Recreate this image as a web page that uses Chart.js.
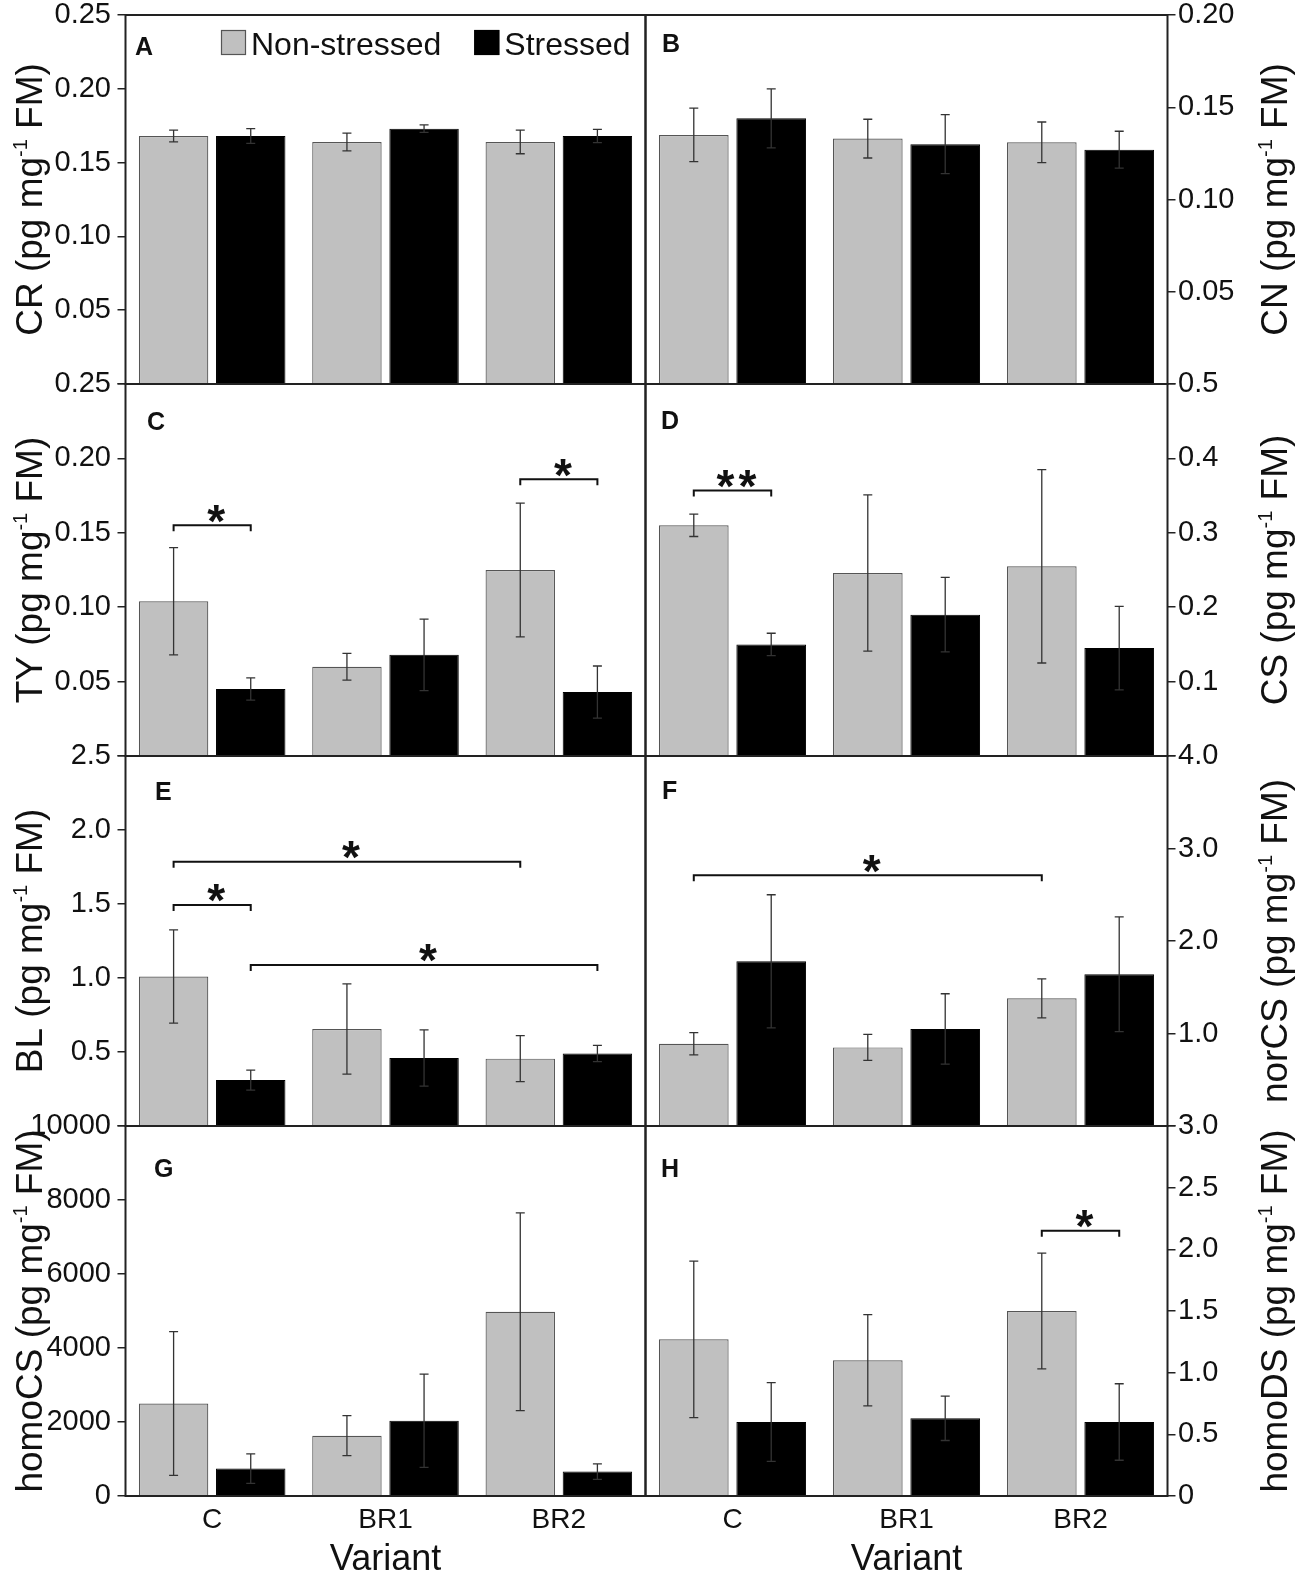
<!DOCTYPE html>
<html>
<head>
<meta charset="utf-8">
<script src="https://cdn.jsdelivr.net/npm/chart.js@4.4.1/dist/chart.umd.min.js"></script>
<style>
  html, body { margin: 0; padding: 0; background: #fff; }
  #wrap { position: relative; width: 1299px; height: 1578px; overflow: hidden; background: #fff; }
  #wrap canvas { position: absolute; }
</style>
</head>
<body>
<div id="wrap"></div>
<script>
const variants = ['C', 'BR1', 'BR2'];
const groups = ['Non-stressed', 'Stressed'];

// means and error bars per panel: [non-stressed, stressed]
const crMean = [[0.168, 0.164, 0.164], [0.168, 0.173, 0.168]];
const crErr = [[0.004, 0.006, 0.008], [0.005, 0.0025, 0.0045]];
const cnMean = [[0.135, 0.133, 0.131], [0.144, 0.130, 0.127]];
const cnErr = [[0.0145, 0.0105, 0.011], [0.016, 0.016, 0.010]];
const tyMean = [[0.104, 0.060, 0.125], [0.045, 0.068, 0.043]];
const tyErr = [[0.036, 0.009, 0.045], [0.0075, 0.024, 0.0175]];
const csMean = [[0.310, 0.246, 0.255], [0.150, 0.190, 0.145]];
const csErr = [[0.015, 0.105, 0.130], [0.015, 0.050, 0.056]];
const blMean = [[1.01, 0.655, 0.455], [0.31, 0.46, 0.49]];
const blErr = [[0.315, 0.305, 0.155], [0.067, 0.19, 0.055]];
const norMean = [[0.89, 0.85, 1.38], [1.78, 1.05, 1.64]];
const norErr = [[0.12, 0.14, 0.21], [0.72, 0.38, 0.62]];
const hcsMean = [[2500, 1630, 4980], [740, 2035, 660]];
const hcsErr = [[1945, 540, 2670], [400, 1260, 210]];
const hdsMean = [[1.27, 1.10, 1.50], [0.60, 0.63, 0.60]];
const hdsErr = [[0.635, 0.37, 0.47], [0.32, 0.18, 0.31]];

// significance brackets: [from variant, from group, to variant, to group, height, mark]
const tyMarks = [[0, 0, 0, 1, 0.155, '*'], [2, 0, 2, 1, 0.186, '*']];
const csMarks = [[0, 0, 0, 1, 0.357, '**']];
const blMarks = [[0, 0, 2, 0, 1.786, '*'], [0, 0, 0, 1, 1.493, '*'], [0, 1, 2, 1, 1.088, '*']];
const norMarks = [[0, 0, 2, 0, 2.71, '*']];
const hdsMarks = [[2, 0, 2, 1, 2.15, '*']];

const FONT = '"Liberation Sans", Arial, sans-serif';
const INK = '#111';
const rowTops = [15, 384, 756, 1126, 1496];
const M = 30; // canvas margin around each plot box

const panels = [
  { letter: 'A', at: [135, 55], side: 'left', row: 0, mean: crMean, err: crErr, max: 0.25, step: 0.05, dec: 2, title: ['CR (pg mg', '-1', ' FM)'], marks: [], legend: true },
  { letter: 'B', at: [662, 52], side: 'right', row: 0, mean: cnMean, err: cnErr, max: 0.20, step: 0.05, dec: 2, title: ['CN (pg mg', '-1', ' FM)'], marks: [] },
  { letter: 'C', at: [147, 430], side: 'left', row: 1, mean: tyMean, err: tyErr, max: 0.25, step: 0.05, dec: 2, title: ['TY (pg mg', '-1', ' FM)'], marks: tyMarks },
  { letter: 'D', at: [661, 429], side: 'right', row: 1, mean: csMean, err: csErr, max: 0.5, step: 0.1, dec: 1, title: ['CS (pg mg', '-1', ' FM)'], marks: csMarks },
  { letter: 'E', at: [155, 800], side: 'left', row: 2, mean: blMean, err: blErr, max: 2.5, step: 0.5, dec: 1, title: ['BL (pg mg', '-1', ' FM)'], marks: blMarks },
  { letter: 'F', at: [662, 799], side: 'right', row: 2, mean: norMean, err: norErr, max: 4, step: 1, dec: 1, title: ['norCS (pg mg', '-1', ' FM)'], marks: norMarks },
  { letter: 'G', at: [154, 1177], side: 'left', row: 3, mean: hcsMean, err: hcsErr, max: 10000, step: 2000, dec: 0, title: ['homoCS (pg mg', '-1', ' FM)'], marks: [] },
  { letter: 'H', at: [661, 1177], side: 'right', row: 3, mean: hdsMean, err: hdsErr, max: 3, step: 0.5, dec: 1, title: ['homoDS (pg mg', '-1', ' FM)'], marks: hdsMarks }
];

const specs = new Map();

function drawTitle(ctx, pieces, bx, my) {
  const big = '37px ' + FONT, small = '20px ' + FONT;
  ctx.font = big;
  const w0 = ctx.measureText(pieces[0]).width;
  const w2 = ctx.measureText(pieces[2]).width;
  ctx.font = small;
  const w1 = ctx.measureText(pieces[1]).width;
  ctx.save();
  ctx.translate(bx, my);
  ctx.rotate(-Math.PI / 2);
  ctx.fillStyle = INK;
  ctx.textAlign = 'left';
  ctx.textBaseline = 'alphabetic';
  let x = -(w0 + w1 + w2) / 2;
  ctx.font = big; ctx.fillText(pieces[0], x, 0); x += w0;
  ctx.font = small; ctx.fillText(pieces[1], x, -15); x += w1;
  ctx.font = big; ctx.fillText(pieces[2], x, 0);
  ctx.restore();
}

const decor = {
  id: 'decor',
  afterDatasetsDraw(chart) {
    const p = specs.get(chart.canvas);
    const ctx = chart.ctx, area = chart.chartArea, y = chart.scales.y;
    ctx.save();
    // error bars
    ctx.strokeStyle = '#333';
    ctx.lineWidth = 1.3;
    chart.data.datasets.forEach((ds, d) => {
      chart.getDatasetMeta(d).data.forEach((bar, i) => {
        const v = ds.data[i], e = p.err[d][i];
        const yt = y.getPixelForValue(v + e), yb = y.getPixelForValue(v - e);
        ctx.beginPath();
        ctx.moveTo(bar.x, yt); ctx.lineTo(bar.x, yb);
        ctx.moveTo(bar.x - 4.5, yt); ctx.lineTo(bar.x + 4.5, yt);
        ctx.moveTo(bar.x - 4.5, yb); ctx.lineTo(bar.x + 4.5, yb);
        ctx.stroke();
      });
    });
    // frame
    ctx.strokeStyle = '#222';
    ctx.lineWidth = 2;
    ctx.strokeRect(area.left, area.top, area.width, area.height);
    // brackets
    p.marks.forEach(([c1, g1, c2, g2, h, mark]) => {
      const x1 = chart.getDatasetMeta(g1).data[c1].x;
      const x2 = chart.getDatasetMeta(g2).data[c2].x;
      const yy = y.getPixelForValue(h);
      ctx.strokeStyle = INK;
      ctx.lineWidth = 2;
      ctx.beginPath();
      ctx.moveTo(x1, yy + 6); ctx.lineTo(x1, yy); ctx.lineTo(x2, yy); ctx.lineTo(x2, yy + 6);
      ctx.stroke();
      ctx.fillStyle = INK;
      ctx.font = 'bold 46px ' + FONT;
      ctx.textAlign = 'center';
      ctx.textBaseline = 'alphabetic';
      const mx = (x1 + x2) / 2 + 4;
      const base = yy - 15 + 0.574 * 46;
      const n = mark.length;
      for (let k = 0; k < n; k++) ctx.fillText(mark[k], mx + (k - (n - 1) / 2) * 22, base);
    });
    ctx.restore();
  },
  afterDraw(chart) {
    const p = specs.get(chart.canvas);
    const ctx = chart.ctx, area = chart.chartArea;
    ctx.save();
    ctx.fillStyle = INK;
    ctx.font = 'bold 25px ' + FONT;
    ctx.textAlign = 'left';
    ctx.textBaseline = 'alphabetic';
    ctx.fillText(p.letter, p.at[0] - p.cx, p.at[1] - p.cy);
    if (p.legend) {
      let x = area.left + 95.5;
      const top = area.top + 15;
      ctx.font = '32px ' + FONT;
      chart.data.datasets.forEach(ds => {
        ctx.fillStyle = ds.backgroundColor;
        ctx.fillRect(x, top, 25, 25);
        ctx.strokeStyle = ds.borderColor;
        ctx.lineWidth = 1.2;
        ctx.strokeRect(x + 0.5, top + 0.5, 24, 24);
        ctx.fillStyle = INK;
        ctx.fillText(ds.label, x + 30, top + 25);
        x += 30 + ctx.measureText(ds.label).width + 33;
      });
    }
    const mid = (rowTops[p.row] + rowTops[p.row + 1]) / 2 - p.cy;
    const bx = (p.side === 'left' ? 42 : 1287) - p.cx;
    drawTitle(ctx, p.title, bx, mid);
    ctx.restore();
  }
};

const wrap = document.getElementById('wrap');

panels.forEach(p => {
  const left = p.side === 'left';
  const last = p.row === 3;
  const top = rowTops[p.row], bottom = rowTops[p.row + 1];
  p.cx = left ? 0 : 630;
  p.cy = top - M;
  const cw = left ? 660 : 669;
  const ch = last ? 1578 - p.cy : bottom - top + 2 * M;
  const canvas = document.createElement('canvas');
  canvas.width = cw; canvas.height = ch;
  canvas.style.left = p.cx + 'px'; canvas.style.top = p.cy + 'px';
  canvas.style.width = cw + 'px'; canvas.style.height = ch + 'px';
  wrap.appendChild(canvas);
  specs.set(canvas, p);

  new Chart(canvas, {
    type: 'bar',
    data: {
      labels: variants,
      datasets: [
        { label: groups[0], data: p.mean[0], backgroundColor: '#c0c0c0', borderColor: '#555', borderWidth: 1.2,
          categoryPercentage: 0.89, barPercentage: 0.9 },
        { label: groups[1], data: p.mean[1], backgroundColor: '#000', borderColor: '#000', borderWidth: 1,
          categoryPercentage: 0.89, barPercentage: 0.9 }
      ]
    },
    options: {
      responsive: false,
      animation: false,
      devicePixelRatio: 1,
      layout: { padding: { top: M, bottom: last ? 0 : M, left: left ? 0 : 15.5, right: left ? 14.5 : 0 } },
      plugins: { legend: { display: false }, tooltip: { enabled: false } },
      scales: {
        x: {
          display: last,
          grid: { display: false, drawTicks: false },
          border: { display: false },
          ticks: { color: INK, font: { family: FONT, size: 28 }, padding: 7 },
          title: { display: last, text: 'Variant', color: INK, font: { family: FONT, size: 36, lineHeight: 1 }, padding: 0 },
          afterFit: s => { s.height = last ? 82 : 0; }
        },
        y: {
          position: left ? 'left' : 'right',
          min: 0,
          max: p.max,
          grid: { drawOnChartArea: false, drawTicks: true, tickLength: 8, color: '#222', lineWidth: 1.5 },
          border: { display: false },
          ticks: {
            stepSize: p.step,
            color: INK,
            font: { family: FONT, size: 29 },
            padding: left ? 6.5 : 2.5,
            callback: v => (v === 0 ? (last ? '0' : '') : v.toFixed(p.dec))
          },
          afterFit: s => { s.width = left ? 125.5 : 131.5; }
        }
      }
    },
    plugins: [decor]
  });
});
</script>
</body>
</html>
